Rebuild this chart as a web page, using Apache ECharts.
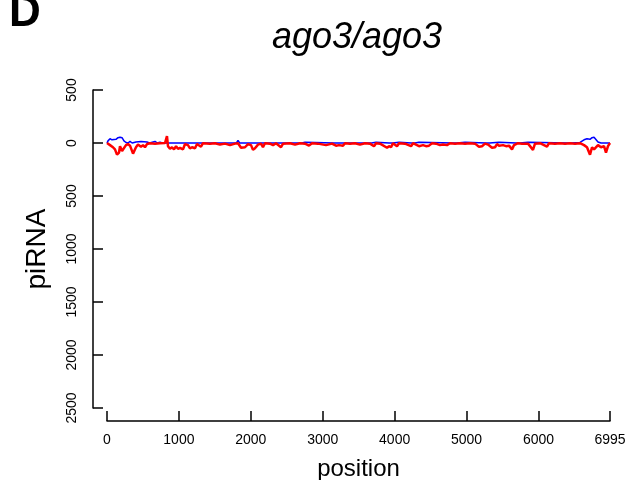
<!DOCTYPE html>
<html>
<head>
<meta charset="utf-8">
<script src="https://cdn.jsdelivr.net/npm/echarts@6/dist/echarts.min.js"></script>
<style>html,body{margin:0;padding:0;background:#fff}#c{width:626px;height:480px}</style>
</head>
<body>
<div id="c"></div>
<script>
// Sense (blue, positive) piRNA coverage
const sensePos = [0,14,42,70,97,125,153,181,209,236,264,292,320,350,403,430,473,500,556,590,668,700,737,770,1130,1154,1180,1800,1822,1845,1864,1885,2080,2100,2120,2660,2684,2710,2754,2780,3160,3185,3205,3226,3250,3425,3449,3470,3635,3658,3680,3741,3765,3925,3950,3975,4061,4085,4230,4256,4280,4339,4360,4815,4840,4865,4979,5000,5275,5299,5320,5452,5475,5690,5716,5740,5855,5880,6415,6439,6460,6578,6634,6675,6717,6745,6773,6800,6828,6870,6995];
const senseVal = [0,20,40,30,45,35,50,55,50,20,5,0,15,0,10,0,15,0,10,0,15,0,8,0,0,10,0,0,25,0,8,0,0,10,0,0,15,0,8,0,0,15,0,8,0,0,10,0,0,15,0,8,0,0,10,0,8,0,0,15,0,8,0,0,10,0,8,0,0,10,0,8,0,0,15,0,8,0,0,10,0,5,30,40,35,50,55,40,10,0,0];
// Antisense (red, negative) piRNA coverage
const antiPos = [0,42,83,111,139,167,181,209,236,264,292,320,362,389,403,431,473,501,528,556,598,668,737,807,834,848,876,904,932,960,987,1015,1057,1085,1126,1154,1182,1224,1252,1279,1307,1335,1432,1502,1571,1641,1711,1780,1822,1864,1891,1919,1961,2003,2030,2058,2072,2100,2142,2169,2197,2267,2309,2350,2420,2448,2545,2615,2684,2754,2809,2851,2934,3046,3073,3129,3185,3226,3282,3310,3379,3449,3518,3588,3658,3713,3741,3797,3894,3922,3950,3977,4033,4061,4144,4228,4256,4339,4395,4436,4478,4520,4575,4631,4673,4728,4770,4840,4909,4979,5048,5118,5173,5215,5257,5299,5354,5396,5424,5452,5507,5549,5591,5632,5660,5716,5771,5855,5924,5952,6022,6119,6147,6230,6300,6369,6439,6508,6578,6634,6675,6717,6745,6773,6800,6828,6870,6912,6939,6967,6995];
const antiVal = [0,-20,-40,-60,-110,-90,-30,-75,-60,-20,-10,-25,-100,-90,-40,-15,-35,-20,-40,-10,-2,-6,-2,0,65,-30,-55,-40,-60,-30,-55,-45,-60,-10,-20,-50,-40,-50,-10,-15,-35,-2,-6,-2,-15,-6,-20,-6,-2,-45,-30,-40,-10,-20,-65,-50,-60,-15,-6,-40,-2,-6,-20,-2,-40,-6,-2,-15,-2,-6,-25,-2,-6,-20,-2,-6,-25,-20,-25,-2,-6,-2,-15,-2,-6,-30,-2,-6,-45,-30,-40,-2,-30,-2,-6,-30,-2,-30,-20,-30,-25,-2,-6,-20,-15,-20,-2,-6,-2,-6,-2,-6,-35,-30,-6,-15,-45,-40,-10,-25,-20,-30,-25,-60,-20,-2,-6,-6,-65,-6,-2,-35,-2,-6,-2,-6,-2,-6,-2,-20,-40,-110,-40,-60,-75,-20,-40,-30,-90,-30,0];
const xTicks = [0,1000,2000,3000,4000,5000,6000,6995];
const yTicks = [-2500,-2000,-1500,-1000,-500,0,500];

const chart = echarts.init(document.getElementById('c'), null, {renderer:'canvas'});
const FONT = 'Liberation Sans, Arial, sans-serif';
chart.setOption({
  animation:false,
  backgroundColor:'#fff',
  title:{text:'ago3/ago3', left:352, top:15, textAlign:'center',
    textStyle:{fontFamily:FONT, fontStyle:'italic', fontWeight:'normal', fontSize:36, color:'#000'}},
  graphic:[{type:'text', left:9, top:-8, style:{text:'D', fontFamily:FONT, fontWeight:'bold', fontSize:44, fill:'#000'}}],
  grid:{left:107, top:90, width:503, height:318, containLabel:false, outerBoundsMode:'none'},
  xAxis:{type:'value', min:0, max:6995, offset:13,
    name:'position', nameLocation:'middle', nameGap:36,
    nameTextStyle:{fontFamily:FONT, fontSize:24, color:'#000'},
    axisLine:{show:true, onZero:false, lineStyle:{color:'#000', width:1.5}},
    axisTick:{show:true, inside:true, length:10, customValues:xTicks, lineStyle:{color:'#000', width:1.5}},
    axisLabel:{customValues:xTicks, margin:12, fontFamily:FONT, fontSize:14, color:'#000',
      formatter:v=>String(v)},
    splitLine:{show:false}},
  yAxis:{type:'value', min:-2500, max:500, interval:500, offset:14,
    name:'piRNA', nameLocation:'middle', nameGap:42, nameRotate:90,
    nameTextStyle:{fontFamily:FONT, fontSize:28, color:'#000'},
    axisLine:{show:true, onZero:false, lineStyle:{color:'#000', width:1.5}},
    axisTick:{show:true, inside:true, length:10, customValues:yTicks, lineStyle:{color:'#000', width:1.5}},
    axisLabel:{customValues:yTicks, rotate:90, margin:14, fontFamily:FONT, fontSize:14, color:'#000',
      formatter:v=>String(Math.abs(v))},
    splitLine:{show:false}},
  series:[
    {type:'line', z:2, data:sensePos.map((p,i)=>[p,senseVal[i]]), showSymbol:false, clip:false,
     lineStyle:{color:'#0000ff', width:1.5}, itemStyle:{color:'#0000ff'}},
    {type:'line', z:3, data:antiPos.map((p,i)=>[p,antiVal[i]]), showSymbol:false, clip:false,
     lineStyle:{color:'#ff0000', width:2.5}, itemStyle:{color:'#ff0000'}}
  ]
});
</script>
</body>
</html>
